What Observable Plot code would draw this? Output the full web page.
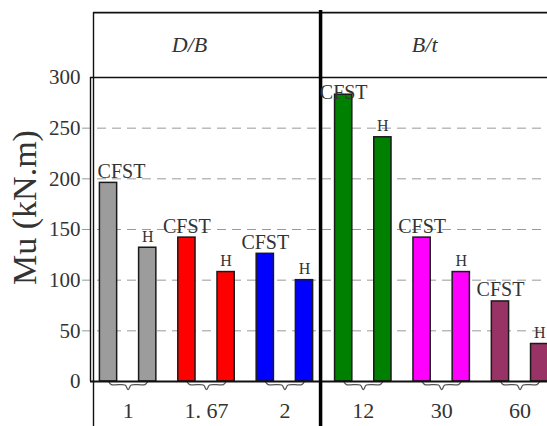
<!DOCTYPE html>
<html>
<head>
<meta charset="utf-8">
<script src="https://cdn.jsdelivr.net/npm/d3@7"></script>
<script src="https://cdn.jsdelivr.net/npm/@observablehq/plot@0.6"></script>
<style>
  html, body { margin: 0; padding: 0; background: #fff; }
  #chart svg { display: block; }
</style>
</head>
<body>
<div id="chart"></div>
<script>
// ---- data ----
const panels = ["D/B", "B/t"];
const groups = ["1", "1. 67", "2", "12", "30", "60"];
const groupPanel = ["D/B", "D/B", "D/B", "B/t", "B/t", "B/t"];
const seriesNames = ["CFST", "H"];
const cfstValues = [196, 142, 126, 283, 142, 79];
const hValues = [132, 108, 100, 241, 108, 37];
const groupColors = ["#9c9c9c", "#ff0000", "#0000ff", "#008000", "#ff00ff", "#993366"];
const yTicks = [0, 50, 100, 150, 200, 250, 300];
const yLabel = "Mu (kN.m)";

// ---- layout helpers ----
const font = "'Liberation Serif', 'Times New Roman', serif";
const xDomain = [-0.46, 11.2];
const halfBar = 0.22;
const headerTop = 364;
const bottomEdge = -45;
const separatorPos = 5.41;

const bars = [];
groups.forEach((g, gi) => {
  bars.push({i: 2 * gi, group: g, series: seriesNames[0], value: cfstValues[gi], color: groupColors[gi]});
  bars.push({i: 2 * gi + 1, group: g, series: seriesNames[1], value: hValues[gi], color: groupColors[gi]});
});

const braces = [];
groups.forEach((g, gi) => {
  const a = 2 * gi, b = 2 * gi + 1, m = (a + b) / 2;
  [[a, 0], [a + 0.07, -3], [m - 0.08, -3.5], [m, -8], [m + 0.08, -3.5], [b - 0.07, -3], [b, 0]]
    .forEach(([x, y]) => braces.push({g, x, y}));
});

const panelCenters = panels.map(p => {
  const idx = bars.filter(d => groupPanel[groups.indexOf(d.group)] === p).map(d => d.i);
  return {p, x: (d3.min(idx) + d3.max(idx)) / 2};
});

const chart = Plot.plot({
  width: 547,
  height: 426,
  marginLeft: 90,
  marginRight: 0,
  marginTop: 77,
  marginBottom: 45,
  style: {fontFamily: font, background: "#fff"},
  x: {type: "linear", domain: xDomain, axis: null},
  y: {domain: [0, 300], axis: null},
  color: {type: "identity"},
  marks: [
    Plot.ruleY(yTicks.filter(t => t > 0 && t < 300), {stroke: "#9a9a9a", strokeDasharray: "9,6", insetLeft: -8}),
    Plot.rectY(bars, {x1: d => d.i - halfBar, x2: d => d.i + halfBar, y1: 0, y2: "value", fill: "color", stroke: "#1a1a1a", strokeWidth: 1.5}),
    Plot.line(braces, {x: "x", y: "y", z: "g", stroke: "#555", strokeWidth: 1.3, curve: "catmull-rom"}),
    Plot.ruleY([0], {stroke: "#111", strokeWidth: 2}),
    Plot.ruleY([300], {stroke: "#111", strokeWidth: 1.6}),
    Plot.ruleY([headerTop], {stroke: "#111", strokeWidth: 1.6, insetLeft: 3}),
    Plot.ruleX([xDomain[0]], {y1: 0, y2: 300, stroke: "#111", strokeWidth: 1.4}),
    Plot.ruleX([xDomain[0]], {y1: bottomEdge, y2: headerTop, dx: 3, stroke: "#111", strokeWidth: 1.4}),
    Plot.ruleX([separatorPos], {y1: bottomEdge, y2: headerTop + 2, stroke: "#000", strokeWidth: 3.5}),
    Plot.axisY({ticks: yTicks, tickSize: 0, tickPadding: 10, fontSize: 21, color: "#333", label: null}),
    Plot.text([yLabel], {frameAnchor: "left", textAnchor: "middle", dx: -65, dy: -22, rotate: -90, fontSize: 34, fill: "#333"}),
    Plot.text(panelCenters, {x: "x", y: (headerTop + 300) / 2, text: "p", dx: -17, fontSize: 22, fontStyle: "italic", fill: "#333"}),
    Plot.text(groups, {x: (d, gi) => 2 * gi + 0.5, y: 0, text: d => d, lineAnchor: "top", dy: 21, fontSize: 22, fill: "#333"}),
    Plot.text(bars.filter(d => d.series === "CFST"), {
      x: d => Math.max(d.i, xDomain[0] + 0.79), y: d => Math.min(d.value, 274), text: "series",
      lineAnchor: "bottom", dy: -5, fontSize: 20, fill: "#333"}),
    Plot.text(bars.filter(d => d.series === "H"), {
      x: "i", y: "value", text: "series", lineAnchor: "bottom", dy: -6, fontSize: 16, fill: "#333"})
  ]
});
document.getElementById("chart").append(chart);
</script>
</body>
</html>
